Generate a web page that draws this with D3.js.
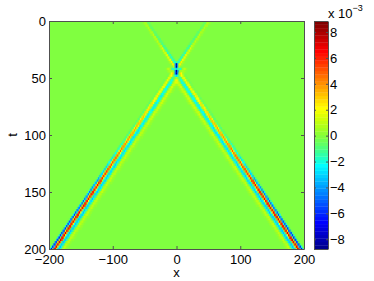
<!DOCTYPE html>
<html>
<head>
<meta charset="utf-8">
<script src="https://cdn.jsdelivr.net/npm/d3@7"></script>
<style>
  body { margin: 0; background: #fff; }
  text { font-family: "Liberation Sans", Arial, sans-serif; font-size: 13px; fill: #000; }
</style>
</head>
<body>
<svg width="374" height="281"></svg>
<script>
// ticks
const xTicks = [-200, -100, 0, 100, 200];
const tTicks = [0, 50, 100, 150, 200];
const cbTicks = [-8, -6, -4, -2, 0, 2, 4, 6, 8];
const cLim = [-8.75, 8.85];   // x 1e-3

// the two pulses cross here, fronts move at this speed (x per t)
const crossX = 0, crossT = 41, speed = 1.2;

// outgoing fronts: bands across the front, offset in x from the red crest (+ = outward)
const outOffset = [5, 0, -5.5, -13];
const outWidth = [1.6, 2.2, 3, 2.5];
const outTimes = [41, 60, 100, 150, 200];
const outBlue = [-0.5, -0.5, -1.5, -5.5, -7.5];
const outRed = [2, 2.5, 4.5, 7.5, 8.2];
const outCyan = [-2, -2.5, -3, -3.5, -3.8];
const outYellow = [1, 1.5, 1.2, 1.2, 1.2];

// incoming fronts (t < crossT)
const inOffset = [1.5, -2.5];
const inWidth = [1.6, 1.8];
const inTimes = [0, 20, 35, 41];
const inYellow = [0.8, 1.2, 2.5, 3.5];
const inCyan = [-0.6, -1.3, -2.3, -3];

// dark spots where the pulses meet
const spotX = [0, 0];
const spotT = [40, 44.5];
const spotAmp = [-9, -7];

const svg = d3.select("svg");
const plotL = 49, plotR = 304, plotT = 21, plotB = 249;

const x = d3.scaleLinear().domain([-200, 200]).range([plotL, plotR]);
const y = d3.scaleLinear().domain([0, 200]).range([plotT, plotB]);

// matlab jet(64); the greens in the picture come out more yellow, so the
// blue channel is squared where it fades out
function jet(n) {
  const m = Math.ceil(n / 4);
  const u = [].concat(
    d3.range(1, m + 1).map(i => i / m),
    d3.range(m - 1).map(() => 1),
    d3.range(m, 0, -1).map(i => i / m)
  );
  const off = Math.ceil(m / 2) - (n % 4 === 1 ? 1 : 0);
  const J = d3.range(n).map(() => [0, 0, 0]);
  u.forEach((val, k) => {
    const gi = off + k + 1, ri = gi + m, bi = gi - m;
    if (ri >= 1 && ri <= n) J[ri - 1][0] = val;
    if (gi >= 1 && gi <= n) J[gi - 1][1] = val;
    if (bi >= 1 && bi <= n) J[bi - 1][2] = val;
  });
  return J.map(c => {
    const b = (c[0] > 0 && c[2] < 1) ? c[2] * c[2] : c[2];
    return d3.rgb(c[0] * 255, c[1] * 255, b * 255).formatHex();
  });
}
const cmap = jet(64);
const bin = v => Math.max(0, Math.min(63, Math.floor((v - cLim[0]) / (cLim[1] - cLim[0]) * 64)));
const zeroBin = bin(0);

// field
const ampAt = (times, vals) => d3.scaleLinear().domain(times).range(vals).clamp(true);
const outAmp = [outBlue, outRed, outCyan, outYellow].map(a => ampAt(outTimes, a));
const inAmp = [inYellow, inCyan].map(a => ampAt(inTimes, a));
const bump = (d, w) => Math.exp(-d * d / (2 * w * w));

function value(px, pt) {
  let v = 0;
  const s = pt - crossT;
  for (const side of [-1, 1]) {
    const xc = crossX + side * speed * Math.abs(s);
    const d = side * (px - xc);
    if (s >= 0) outAmp.forEach((a, k) => v += a(pt) * bump(d - outOffset[k], outWidth[k]));
    else inAmp.forEach((a, k) => v += a(pt) * bump(d - inOffset[k], inWidth[k]));
  }
  spotX.forEach((sx, k) => {
    v += spotAmp[k] * bump(px - sx, 1.5) * bump(pt - spotT[k], 1.5);
  });
  return v;
}

const dx = 2, dt = 2;
const cells = [];
d3.range(-200, 200.1, dx).forEach(cx => {
  d3.range(0, 200.1, dt).forEach(ct => {
    const b = bin(value(cx, ct));
    if (b !== zeroBin) cells.push({ cx, ct, b });
  });
});

svg.append("clipPath").attr("id", "plot")
  .append("rect").attr("x", plotL).attr("y", plotT)
  .attr("width", plotR - plotL).attr("height", plotB - plotT);

const img = svg.append("g").attr("clip-path", "url(#plot)");
img.append("rect")
  .attr("x", plotL).attr("y", plotT)
  .attr("width", plotR - plotL).attr("height", plotB - plotT)
  .attr("fill", cmap[zeroBin]);

img.selectAll(".cell")
  .data(cells)
  .enter().append("rect")
    .attr("class", "cell")
    .attr("x", d => x(d.cx - dx / 2))
    .attr("y", d => y(d.ct - dt / 2))
    .attr("width", x(dx) - x(0) + 0.3)
    .attr("height", y(dt) - y(0) + 0.3)
    .attr("fill", d => cmap[d.b]);

// axes (matlab style: ticks inside, box all round)
const axisColor = "#505050";
function styleAxis(g) {
  g.selectAll("path, line").attr("stroke", axisColor);
  g.selectAll("text").attr("fill", "#000").style("font-size", "13px");
}

svg.append("g").attr("transform", `translate(0,${plotB})`)
  .call(d3.axisBottom(x).tickValues(xTicks).tickSizeInner(-3).tickSizeOuter(0).tickPadding(6))
  .call(styleAxis);
svg.append("g").attr("transform", `translate(0,${plotT})`)
  .call(d3.axisTop(x).tickValues(xTicks).tickSizeInner(-3).tickSizeOuter(0).tickFormat(""))
  .call(styleAxis);
svg.append("g").attr("transform", `translate(${plotL},0)`)
  .call(d3.axisLeft(y).tickValues(tTicks).tickSizeInner(-3).tickSizeOuter(0).tickPadding(3))
  .call(styleAxis);
svg.append("g").attr("transform", `translate(${plotR},0)`)
  .call(d3.axisRight(y).tickValues(tTicks).tickSizeInner(-3).tickSizeOuter(0).tickFormat(""))
  .call(styleAxis);

svg.append("text")
  .attr("x", x(0)).attr("y", 277)
  .attr("text-anchor", "middle")
  .text("x");
svg.append("text")
  .attr("transform", `translate(17,${y(100)}) rotate(-90)`)
  .attr("text-anchor", "middle")
  .text("t");

// colorbar
const cbLeft = 314, cbRight = 328;
const cby = d3.scaleLinear().domain(cLim).range([plotB, plotT]);
const step = (cLim[1] - cLim[0]) / 64;

svg.selectAll(".cb")
  .data(cmap)
  .enter().append("rect")
    .attr("class", "cb")
    .attr("x", cbLeft)
    .attr("y", (c, i) => cby(cLim[0] + (i + 1) * step))
    .attr("width", cbRight - cbLeft)
    .attr("height", cby(0) - cby(step) + 0.3)
    .attr("fill", c => c);

svg.append("g").attr("transform", `translate(${cbRight},0)`)
  .call(d3.axisRight(cby).tickValues(cbTicks).tickSizeInner(-2).tickSizeOuter(0).tickPadding(2))
  .call(styleAxis);
svg.append("g").attr("transform", `translate(${cbLeft},0)`)
  .call(d3.axisLeft(cby).tickValues(cbTicks).tickSizeInner(-2).tickSizeOuter(0).tickFormat(""))
  .call(styleAxis);
svg.append("line")
  .attr("x1", cbLeft).attr("x2", cbRight).attr("y1", plotT + 0.5).attr("y2", plotT + 0.5)
  .attr("stroke", axisColor);
svg.append("line")
  .attr("x1", cbLeft).attr("x2", cbRight).attr("y1", plotB + 0.5).attr("y2", plotB + 0.5)
  .attr("stroke", axisColor);

const expo = svg.append("text").attr("x", 328).attr("y", 18);
expo.append("tspan").text("x 10");
expo.append("tspan").attr("dy", -7).style("font-size", "9px").text("\u22123");
</script>
</body>
</html>
